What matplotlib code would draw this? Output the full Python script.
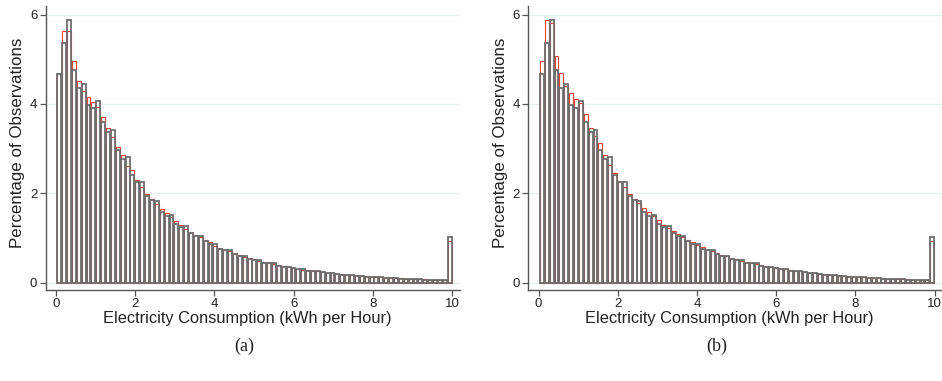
import numpy as np
import matplotlib
matplotlib.use("Agg")
import matplotlib.pyplot as plt

plt.rcParams['font.family'] = ['Liberation Sans', 'DejaVu Sans']

# 81 bins from ~0.02 to 10 kWh (last bin holds the top-coded values)
edges = np.linspace(0.02, 10.0, 82)

# observed distribution (grey outline), percent of observations per bin
observed = [4.67, 5.36, 5.87, 4.76, 4.35, 4.44, 3.98, 3.90, 4.07, 3.59,
            3.37, 3.42, 2.96, 2.77, 2.80, 2.41, 2.25, 2.26, 1.93, 1.84,
            1.82, 1.58, 1.50, 1.52, 1.32, 1.25, 1.26, 1.10, 1.04, 1.05,
            0.92, 0.87, 0.86, 0.75, 0.72, 0.73, 0.64, 0.60, 0.60, 0.53,
            0.51, 0.51, 0.44, 0.43, 0.43, 0.38, 0.36, 0.36, 0.32, 0.31,
            0.30, 0.27, 0.26, 0.255, 0.23, 0.215, 0.215, 0.195, 0.18, 0.18,
            0.16, 0.15, 0.15, 0.135, 0.125, 0.125, 0.115, 0.105, 0.105, 0.095,
            0.09, 0.09, 0.08, 0.075, 0.075, 0.068, 0.063, 0.063, 0.057, 0.052,
            1.01]

# simulated distribution, panel (a) (red outline)
sim_a = [4.67, 5.64, 5.63, 4.97, 4.51, 4.28, 4.16, 4.05, 3.93, 3.70,
         3.47, 3.27, 3.04, 2.86, 2.62, 2.51, 2.29, 2.14, 1.99, 1.87,
         1.76, 1.65, 1.55, 1.46, 1.37, 1.29, 1.21, 1.14, 1.07, 1.01,
         0.95, 0.90, 0.83, 0.78, 0.74, 0.70, 0.66, 0.62, 0.58, 0.55,
         0.52, 0.49, 0.46, 0.44, 0.41, 0.39, 0.37, 0.35, 0.33, 0.31,
         0.29, 0.28, 0.26, 0.25, 0.235, 0.22, 0.21, 0.20, 0.185, 0.175,
         0.165, 0.155, 0.148, 0.14, 0.13, 0.125, 0.118, 0.11, 0.105, 0.10,
         0.094, 0.089, 0.085, 0.08, 0.076, 0.072, 0.068, 0.065, 0.062, 0.058,
         0.92]

# simulated distribution, panel (b)
sim_b = [4.95, 5.88, 5.80, 5.08, 4.70, 4.39, 4.24, 4.11, 4.01, 3.78,
         3.47, 3.29, 3.12, 2.86, 2.63, 2.46, 2.27, 2.13, 1.98, 1.88,
         1.78, 1.67, 1.57, 1.48, 1.39, 1.30, 1.22, 1.15, 1.08, 1.02,
         0.96, 0.90, 0.84, 0.79, 0.74, 0.70, 0.66, 0.62, 0.59, 0.56,
         0.52, 0.49, 0.47, 0.44, 0.42, 0.39, 0.37, 0.35, 0.33, 0.31,
         0.30, 0.28, 0.265, 0.25, 0.235, 0.22, 0.21, 0.20, 0.19, 0.175,
         0.165, 0.155, 0.148, 0.14, 0.132, 0.125, 0.118, 0.11, 0.105, 0.10,
         0.094, 0.089, 0.085, 0.08, 0.076, 0.072, 0.068, 0.065, 0.062, 0.058,
         0.93]

xticks = [0, 2, 4, 6, 8, 10]
yticks = [0, 2, 4, 6]
captions = ['(a)', '(b)']

grey = '#6e6e6e'
red = '#ee4433'
axis_col = '#555555'

fig = plt.figure(figsize=(9.42, 3.81), dpi=100)
lefts = [45.7 / 942, 528.3 / 942]
cap_x = [244 / 942, 717 / 942]

width = np.diff(edges)
left_e = edges[:-1] + 0.1 * width
bar_w = 0.8 * width

for i, sim in enumerate([sim_a, sim_b]):
    ax = fig.add_axes([lefts[i], 1 - 290 / 381, 414.3 / 942, 283.5 / 381])
    ax.set_xlim(-0.26, 10.2)
    ax.set_ylim(-0.166, 6.18)

    for y in yticks:
        ax.axhline(y, color='#e8f0f1', lw=1.0, zorder=0)

    ax.bar(left_e, sim, width=bar_w, align='edge', facecolor='white',
           edgecolor=red, linewidth=0.8, zorder=2)
    ax.bar(left_e, observed, width=bar_w, align='edge', facecolor='none',
           edgecolor=grey, linewidth=1.3, zorder=3)

    for s in ['top', 'right']:
        ax.spines[s].set_visible(False)
    for s in ['left', 'bottom']:
        ax.spines[s].set_color(axis_col)
        ax.spines[s].set_linewidth(1.0)

    ax.set_xticks(xticks)
    ax.set_yticks(yticks)
    ax.tick_params(direction='out', length=4, width=0.9, color=axis_col,
                   labelsize=9.5, labelcolor='#222222', pad=2)

    ax.set_xlabel('Electricity Consumption (kWh per Hour)', fontsize=11.8,
                  color='#222222')
    ax.set_ylabel('Percentage of Observations', fontsize=12.2, color='#222222')
    ax.xaxis.set_label_coords(0.486, -0.075)
    ax.yaxis.set_label_coords(-0.05, 0.52)

    fig.text(cap_x[i], 1 - 346 / 381, captions[i], ha='center', va='center',
             family='Liberation Serif', fontsize=13, color='#222222')

fig.savefig('out.png', dpi=100)
